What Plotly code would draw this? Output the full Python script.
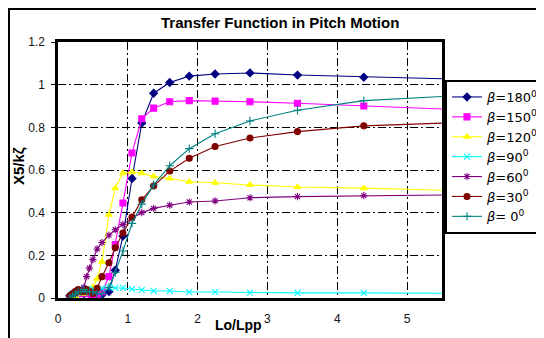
import plotly.graph_objects as go

# Shared Lo/Lpp values
lo_lpp = [0.17, 0.21, 0.25, 0.29, 0.33, 0.37, 0.41, 0.45, 0.50, 0.56, 0.63, 0.73,
          0.82, 0.93, 1.06, 1.20, 1.37, 1.60, 1.88, 2.25, 2.75, 3.43, 4.38, 5.80]

beta_180 = [0.01, 0.02, 0.03, 0.02, 0.03, 0.02, 0.03, 0.02, 0.01, 0.01, 0.015, 0.03,
            0.13, 0.29, 0.56, 0.82, 0.96, 1.01, 1.04, 1.05, 1.055, 1.045, 1.035, 1.025]
beta_150 = [0.00, 0.01, 0.02, 0.03, 0.02, 0.03, 0.03, 0.02, 0.01, 0.00, 0.03, 0.10,
            0.25, 0.445, 0.68, 0.84, 0.89, 0.92, 0.925, 0.923, 0.92, 0.913, 0.90, 0.882]
beta_120 = [0.00, 0.00, 0.01, 0.02, 0.03, 0.02, 0.03, 0.04, 0.05, 0.09, 0.17, 0.39,
            0.515, 0.585, 0.59, 0.585, 0.57, 0.56, 0.545, 0.54, 0.53, 0.52, 0.515, 0.502]
beta_90 = [0.01, 0.02, 0.02, 0.03, 0.03, 0.04, 0.04, 0.04, 0.04, 0.04, 0.045, 0.05,
           0.047, 0.047, 0.042, 0.038, 0.033, 0.033, 0.028, 0.028, 0.025, 0.024, 0.024, 0.022]
beta_60 = [0.01, 0.02, 0.02, 0.03, 0.03, 0.05, 0.10, 0.14, 0.18, 0.23, 0.26, 0.295,
           0.32, 0.345, 0.375, 0.40, 0.42, 0.435, 0.45, 0.455, 0.47, 0.475, 0.48, 0.484]
beta_30 = [0.01, 0.02, 0.03, 0.04, 0.03, 0.03, 0.04, 0.03, 0.02, 0.045, 0.10, 0.165,
           0.235, 0.305, 0.38, 0.46, 0.525, 0.595, 0.655, 0.71, 0.75, 0.78, 0.807, 0.823]
beta_0 = [0.00, 0.01, 0.02, 0.03, 0.03, 0.04, 0.03, 0.03, 0.03, 0.02, 0.02, 0.05,
          0.12, 0.22, 0.35, 0.44, 0.53, 0.62, 0.70, 0.77, 0.83, 0.88, 0.925, 0.95]

series_names = ["<i>β</i>=180<sup>0</sup>", "<i>β</i>=150<sup>0</sup>", "<i>β</i>=120<sup>0</sup>",
                "<i>β</i>=90<sup>0</sup>", "<i>β</i>=60<sup>0</sup>", "<i>β</i>=30<sup>0</sup>",
                "<i>β</i>= 0<sup>0</sup>"]
series_values = [beta_180, beta_150, beta_120, beta_90, beta_60, beta_30, beta_0]
series_colors = ["#000080", "#FF00FF", "#FFFF00", "#00FFFF", "#800080", "#800000", "#008080"]
series_symbols = ["diamond", "square", "triangle-up", "x-thin-open", "asterisk-open",
                  "circle", "cross-thin-open"]
series_sizes = [6, 6, 6, 6, 6, 6, 6]

x_ticks = [0, 1, 2, 3, 4, 5]
y_ticks = [0, 0.2, 0.4, 0.6, 0.8, 1.0, 1.2]
y_tick_text = ["0", "0.2", "0.4", "0.6", "0.8", "1", "1.2"]

fig = go.Figure()
for name, vals, col, sym, sz in zip(series_names, series_values, series_colors,
                                     series_symbols, series_sizes):
    fig.add_trace(go.Scatter(
        x=lo_lpp, y=vals, name=name, mode="lines+markers",
        line=dict(color=col, width=1.1),
        marker=dict(color=col, symbol=sym, size=sz,
                    line=dict(color=col, width=1.1)),
        cliponaxis=True,
    ))

OFF = 8  # browser body margin
W, H = 544 - OFF, 338 - OFF
L, R, T, B = 58 - OFF, 442 - OFF, 42 - OFF, 298 - OFF
pw, ph = R - L, B - T

def px(xp):
    return (xp - OFF - L) / pw

def py(yp):
    return (B - (yp - OFF)) / ph

axis_font = dict(family="Liberation Sans, Arial, sans-serif", size=12, color="#111")

fig.update_layout(
    width=W, height=H,
    margin=dict(l=L, r=W - R, t=T, b=H - B, autoexpand=False),
    paper_bgcolor="white", plot_bgcolor="white",
    showlegend=True,
    legend=dict(
        x=px(445), y=py(80), xanchor="left", yanchor="top",
        bordercolor="black", borderwidth=2, bgcolor="white",
        font=dict(family="DejaVu Sans, sans-serif", size=13, color="black"),
        tracegroupgap=0, itemwidth=30,
    ),
    xaxis=dict(
        range=[0, 5.5], tickvals=x_ticks, ticktext=[str(v) for v in x_ticks],
        showgrid=True, gridcolor="black", gridwidth=1, griddash="8px,3px,2px,3px",
        showline=True, linecolor="black", linewidth=2.5, mirror=True,
        zeroline=False, ticks="", tickfont=axis_font, ticklabelstandoff=8,
    ),
    yaxis=dict(
        range=[0, 1.2], tickvals=y_ticks, ticktext=y_tick_text,
        showgrid=True, gridcolor="black", gridwidth=1, griddash="8px,3px,2px,3px",
        showline=True, linecolor="black", linewidth=2.5, mirror=True,
        zeroline=False, ticks="outside", ticklen=4, tickcolor="black",
        tickfont=axis_font, ticklabelstandoff=4,
    ),
    shapes=[dict(type="rect", xref="paper", yref="paper",
                 x0=px(9), y0=py(500), x1=px(700), y1=py(9),
                 line=dict(color="black", width=2), fillcolor="rgba(0,0,0,0)",
                 layer="above")],
    annotations=[
        dict(text="<b>Transfer Function in Pitch Motion</b>", xref="paper", yref="paper",
             x=px(280), y=py(22), showarrow=False, xanchor="center", yanchor="middle",
             font=dict(family="Liberation Sans, Arial, sans-serif", size=15, color="black")),
        dict(text="<b>Lo/Lpp</b>", xref="paper", yref="paper",
             x=px(238), y=py(325), showarrow=False, xanchor="center", yanchor="middle",
             font=dict(family="Liberation Sans, Arial, sans-serif", size=14, color="black")),
        dict(text="<b>X5/kζ</b>", xref="paper", yref="paper", textangle=-90,
             x=px(18), y=py(166), showarrow=False, xanchor="center", yanchor="middle",
             font=dict(family="Liberation Sans, Arial, sans-serif", size=15, color="black")),
    ],
)

fig.write_html("out.html")
